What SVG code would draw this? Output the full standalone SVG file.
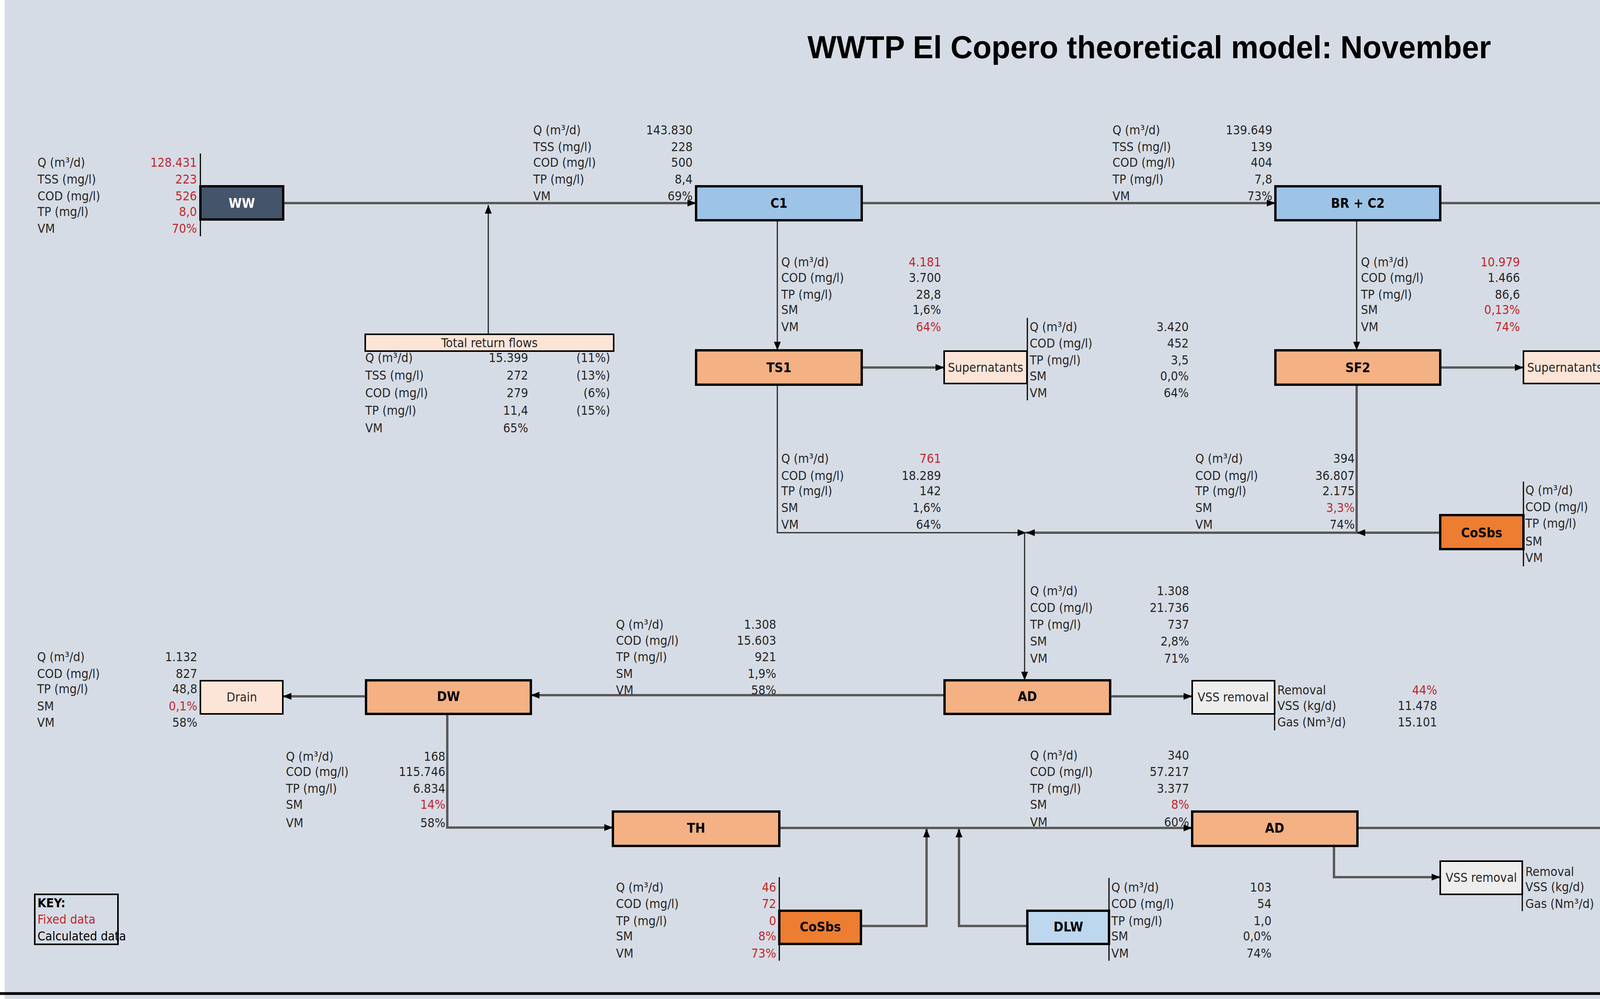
<svg xmlns="http://www.w3.org/2000/svg" width="5884" height="2558" viewBox="0 0 5884 2558">
<style>
text{font-family:"Liberation Sans Narrow","DejaVu Sans Condensed","Liberation Sans",sans-serif;font-size:32px;fill:#262626;dominant-baseline:central}
.v{text-anchor:end}
.r{fill:#c0272d}
.n{text-anchor:middle;font-weight:bold;font-size:34px;fill:#000}
.w{fill:#fff}
.t{text-anchor:middle;font-size:32px}
.box{stroke:#000;stroke-width:6}
.sep{stroke:#000;stroke-width:3}
.m{fill:none;stroke:#595959;stroke-width:6}
.f{fill:none;stroke:#262626;stroke-width:3}
</style>
<defs>
<marker id="a" viewBox="0 0 10 10" refX="9" refY="5" markerWidth="5" markerHeight="5" orient="auto" markerUnits="userSpaceOnUse" style="overflow:visible"><path d="M0,0L10,5L0,10z" fill="#000" transform="scale(2.2) translate(-5.5,-2.7)"/></marker>
<marker id="b" viewBox="0 0 10 10" refX="10" refY="5" markerWidth="22" markerHeight="22" orient="auto" markerUnits="userSpaceOnUse"><path d="M0,1L10,5L0,9z" fill="#000"/></marker>
</defs>
<rect width="5884" height="2558" fill="#d6dce5"/>
<rect width="12" height="2558" fill="#fff"/>
<line x1="0" y1="2544" x2="5884" y2="2544" stroke="#000" stroke-width="7"/>
<text x="2942" y="120" text-anchor="middle" style="font-family:'Liberation Sans',sans-serif;font-weight:bold;font-size:82px;fill:#000" textLength="1750" lengthAdjust="spacingAndGlyphs">WWTP El Copero theoretical model: November</text>

<g id="connectors">
<path class="m" d="M725,520H1782" marker-end="url(#b)"/>
<path class="f" d="M1250,856V525" marker-end="url(#b)"/>
<path class="m" d="M2206,520H3265" marker-end="url(#b)"/>
<path class="m" d="M3687,520H5169" marker-end="url(#b)"/>
<path class="f" d="M1990,564V897" marker-end="url(#b)"/>
<path class="f" d="M3473,564V897" marker-end="url(#b)"/>
<path class="m" d="M2206,941H2417" marker-end="url(#b)"/>
<path class="m" d="M3687,941H3900" marker-end="url(#b)"/>
<path class="f" d="M1990,985V1364H2627" marker-end="url(#b)"/>
<path class="m" d="M3473,985V1364H2627" marker-end="url(#b)"/>
<path class="m" d="M3687,1364H3473" marker-end="url(#b)"/>
<path class="f" d="M2623,1364V1742" marker-end="url(#b)"/>
<path class="m" d="M2842,1783H3052" marker-end="url(#b)"/>
<path class="m" d="M2418,1780H1359" marker-end="url(#b)"/>
<path class="m" d="M937,1783H724" marker-end="url(#b)"/>
<path class="m" d="M1145,1828V2119H1569" marker-end="url(#b)"/>
<path class="m" d="M1995,2120H3052" marker-end="url(#b)"/>
<path class="m" d="M2204,2371H2372V2122" marker-end="url(#b)"/>
<path class="m" d="M2630,2371H2455V2122" marker-end="url(#b)"/>
<path class="m" d="M3415,2166V2246H3687" marker-end="url(#b)"/>
<path class="m" d="M3475,2120H4533" marker-end="url(#b)"/>
<path class="m" d="M4743,2078V1825H4957" marker-end="url(#b)"/>
<path class="m" d="M4959,2120H5169" marker-end="url(#b)"/>
</g>

<g id="WW"><rect class="box" x="513" y="477" width="212" height="85" fill="#44546a"/><text class="n w" x="619" y="520">WW</text></g>
<g id="C1"><rect class="box" x="1782" y="477" width="424" height="87" fill="#9dc3e6"/><text class="n" x="1994" y="520">C1</text></g>
<g id="BRC2"><rect class="box" x="3265" y="477" width="422" height="87" fill="#9dc3e6"/><text class="n" x="3476" y="520">BR + C2</text></g>
<g id="TW"><rect class="box" x="5169" y="477" width="212" height="84" fill="#5b9bd5"/><text class="n w" x="5275" y="520">TW</text></g>
<g id="TS1"><rect class="box" x="1782" y="897" width="424" height="88" fill="#f4b183"/><text class="n" x="1994" y="941">TS1</text></g>
<g id="Sup1"><rect class="box" x="2417" y="899" width="212" height="83" fill="#fce4d6" style="stroke-width:4"/><text class="t" x="2523" y="941">Supernatants</text></g>
<g id="SF2"><rect class="box" x="3265" y="897" width="422" height="88" fill="#f4b183"/><text class="n" x="3476" y="941">SF2</text></g>
<g id="Sup2"><rect class="box" x="3900" y="899" width="212" height="83" fill="#fce4d6" style="stroke-width:4"/><text class="t" x="4006" y="941">Supernatants</text></g>
<g id="CoSbs1"><rect class="box" x="3687" y="1319" width="213" height="87" fill="#ed7d31"/><text class="n" x="3793" y="1364">CoSbs</text></g>
<g id="AD1"><rect class="box" x="2418" y="1742" width="424" height="86" fill="#f4b183"/><text class="n" x="2630" y="1783">AD</text></g>
<g id="VSS1"><rect class="box" x="3052" y="1743" width="211" height="85" fill="#ededed" style="stroke-width:4"/><text class="t" x="3157" y="1785">VSS removal</text></g>
<g id="DW1"><rect class="box" x="937" y="1742" width="422" height="86" fill="#f4b183"/><text class="n" x="1148" y="1783">DW</text></g>
<g id="Drain1"><rect class="box" x="513" y="1743" width="211" height="85" fill="#fce4d6" style="stroke-width:4"/><text class="t" x="619" y="1785">Drain</text></g>
<g id="TH"><rect class="box" x="1569" y="2078" width="426" height="88" fill="#f4b183"/><text class="n" x="1782" y="2120">TH</text></g>
<g id="AD2"><rect class="box" x="3052" y="2078" width="423" height="88" fill="#f4b183"/><text class="n" x="3263" y="2120">AD</text></g>
<g id="VSS2"><rect class="box" x="3687" y="2205" width="210" height="85" fill="#ededed" style="stroke-width:4"/><text class="t" x="3792" y="2247">VSS removal</text></g>
<g id="DW2"><rect class="box" x="4533" y="2078" width="426" height="90" fill="#f4b183"/><text class="n" x="4746" y="2120">DW</text></g>
<g id="Drain2"><rect class="box" x="4957" y="1785" width="212" height="85" fill="#fce4d6" style="stroke-width:4"/><text class="t" x="5063" y="1827">Drain</text></g>
<g id="DM"><rect class="box" x="5169" y="2078" width="211" height="88" fill="#843c0c"/><text class="n w" x="5275" y="2122">DM</text></g>
<g id="CoSbs2"><rect class="box" x="1995" y="2332" width="209" height="85" fill="#ed7d31"/><text class="n" x="2100" y="2373">CoSbs</text></g>
<g id="DLW"><rect class="box" x="2630" y="2332" width="209" height="85" fill="#bdd7ee"/><text class="n" x="2735" y="2373">DLW</text></g>
<g id="TRF"><rect class="box" x="935" y="856" width="636" height="43" fill="#fce4d6" style="stroke-width:4"/><text class="t" x="1253" y="878">Total return flows</text></g>
<g id="KEY"><rect x="89" y="2290" width="213" height="128" fill="none" stroke="#000" stroke-width="4"/>
<text x="96" y="2312" style="font-weight:bold;fill:#000">KEY:</text><text class="r" x="96" y="2354">Fixed data</text><text x="96" y="2397" style="fill:#000">Calculated data</text></g>

<g id="tables">
<line class="sep" x1="513" y1="393" x2="513" y2="605"/>
<line class="sep" x1="5382" y1="393" x2="5382" y2="604"/>
<line class="sep" x1="2630" y1="814" x2="2630" y2="1025"/>
<line class="sep" x1="4112" y1="814" x2="4112" y2="1025"/>
<line class="sep" x1="3900" y1="1233" x2="3900" y2="1450"/>
<line class="sep" x1="3263" y1="1743" x2="3263" y2="1870"/>
<line class="sep" x1="3897" y1="2205" x2="3897" y2="2333"/>
<line class="sep" x1="2839" y1="2248" x2="2839" y2="2460"/>
<line class="sep" x1="1995" y1="2246" x2="1995" y2="2460"/>
<line class="sep" x1="5169" y1="1701" x2="5169" y2="1912"/>
<line class="sep" x1="5382" y1="1995" x2="5382" y2="2209"/>

<text x="96" y="416">Q (m³/d)</text><text x="96" y="459">TSS (mg/l)</text><text x="96" y="502">COD (mg/l)</text><text x="96" y="542">TP (mg/l)</text><text x="96" y="585">VM</text>
<text class="v r" x="504" y="416">128.431</text><text class="v r" x="504" y="459">223</text><text class="v r" x="504" y="502">526</text><text class="v r" x="504" y="542">8,0</text><text class="v r" x="504" y="585">70%</text>

<text x="1365" y="333">Q (m³/d)</text><text x="1365" y="376">TSS (mg/l)</text><text x="1365" y="416">COD (mg/l)</text><text x="1365" y="459">TP (mg/l)</text><text x="1365" y="502">VM</text>
<text class="v" x="1773" y="333">143.830</text><text class="v" x="1773" y="376">228</text><text class="v" x="1773" y="416">500</text><text class="v" x="1773" y="459">8,4</text><text class="v" x="1773" y="502">69%</text>

<text x="2848" y="333">Q (m³/d)</text><text x="2848" y="376">TSS (mg/l)</text><text x="2848" y="416">COD (mg/l)</text><text x="2848" y="459">TP (mg/l)</text><text x="2848" y="502">VM</text>
<text class="v" x="3257" y="333">139.649</text><text class="v" x="3257" y="376">139</text><text class="v" x="3257" y="416">404</text><text class="v" x="3257" y="459">7,8</text><text class="v" x="3257" y="502">73%</text>

<text x="5388" y="416">Q (m³/d)</text><text x="5388" y="458">TSS (mg/l)</text><text x="5388" y="501">COD (mg/l)</text><text x="5388" y="542">TP (mg/l)</text><text x="5388" y="584">VM</text>
<text class="v" x="5758" y="416">#¡VALOR!</text><text class="v" x="5758" y="458">#¡VALOR!</text><text class="v" x="5758" y="501">#¡VALOR!</text><text class="v" x="5758" y="542">#¡VALOR!</text><text class="v" x="5758" y="584">#¡VALOR!</text>

<text x="2000" y="671">Q (m³/d)</text><text x="2000" y="711">COD (mg/l)</text><text x="2000" y="754">TP (mg/l)</text><text x="2000" y="793">SM</text><text x="2000" y="837">VM</text>
<text class="v r" x="2409" y="671">4.181</text><text class="v" x="2409" y="711">3.700</text><text class="v" x="2409" y="754">28,8</text><text class="v" x="2409" y="793">1,6%</text><text class="v r" x="2409" y="837">64%</text>

<text x="3484" y="671">Q (m³/d)</text><text x="3484" y="711">COD (mg/l)</text><text x="3484" y="754">TP (mg/l)</text><text x="3484" y="793">SM</text><text x="3484" y="837">VM</text>
<text class="v r" x="3891" y="671">10.979</text><text class="v" x="3891" y="711">1.466</text><text class="v" x="3891" y="754">86,6</text><text class="v r" x="3891" y="793">0,13%</text><text class="v r" x="3891" y="837">74%</text>

<text x="2636" y="837">Q (m³/d)</text><text x="2636" y="879">COD (mg/l)</text><text x="2636" y="922">TP (mg/l)</text><text x="2636" y="963">SM</text><text x="2636" y="1006">VM</text>
<text class="v" x="3043" y="837">3.420</text><text class="v" x="3043" y="879">452</text><text class="v" x="3043" y="922">3,5</text><text class="v" x="3043" y="963">0,0%</text><text class="v" x="3043" y="1006">64%</text>

<text x="4118" y="837">Q (m³/d)</text><text x="4118" y="879">COD (mg/l)</text><text x="4118" y="922">TP (mg/l)</text><text x="4118" y="963">SM</text><text x="4118" y="1006">VM</text>
<text class="v" x="4525" y="837">10.586</text><text class="v" x="4525" y="879">152</text><text class="v" x="4525" y="922">9,0</text><text class="v" x="4525" y="963">0,0%</text><text class="v" x="4525" y="1006">74%</text>

<text x="2000" y="1174">Q (m³/d)</text><text x="2000" y="1218">COD (mg/l)</text><text x="2000" y="1257">TP (mg/l)</text><text x="2000" y="1300">SM</text><text x="2000" y="1343">VM</text>
<text class="v r" x="2409" y="1174">761</text><text class="v" x="2409" y="1218">18.289</text><text class="v" x="2409" y="1257">142</text><text class="v" x="2409" y="1300">1,6%</text><text class="v" x="2409" y="1343">64%</text>

<text x="3060" y="1174">Q (m³/d)</text><text x="3060" y="1218">COD (mg/l)</text><text x="3060" y="1257">TP (mg/l)</text><text x="3060" y="1300">SM</text><text x="3060" y="1343">VM</text>
<text class="v" x="3468" y="1174">394</text><text class="v" x="3468" y="1218">36.807</text><text class="v" x="3468" y="1257">2.175</text><text class="v r" x="3468" y="1300">3,3%</text><text class="v" x="3468" y="1343">74%</text>

<text x="3905" y="1255">Q (m³/d)</text><text x="3905" y="1298">COD (mg/l)</text><text x="3905" y="1340">TP (mg/l)</text><text x="3905" y="1386">SM</text><text x="3905" y="1428">VM</text>
<text class="v r" x="4315" y="1255">153</text><text class="v r" x="4315" y="1298">121</text><text class="v r" x="4315" y="1340">0</text><text class="v r" x="4315" y="1386">7%</text><text class="v r" x="4315" y="1428">76%</text>

<text x="2637" y="1513">Q (m³/d)</text><text x="2637" y="1556">COD (mg/l)</text><text x="2637" y="1599">TP (mg/l)</text><text x="2637" y="1642">SM</text><text x="2637" y="1686">VM</text>
<text class="v" x="3044" y="1513">1.308</text><text class="v" x="3044" y="1556">21.736</text><text class="v" x="3044" y="1599">737</text><text class="v" x="3044" y="1642">2,8%</text><text class="v" x="3044" y="1686">71%</text>

<text x="3270" y="1767">Removal</text><text x="3270" y="1807">VSS (kg/d)</text><text x="3270" y="1849">Gas (Nm³/d)</text>
<text class="v r" x="3679" y="1767">44%</text><text class="v" x="3679" y="1807">11.478</text><text class="v" x="3679" y="1849">15.101</text>

<text x="1577" y="1599">Q (m³/d)</text><text x="1577" y="1640">COD (mg/l)</text><text x="1577" y="1682">TP (mg/l)</text><text x="1577" y="1725">SM</text><text x="1577" y="1767">VM</text>
<text class="v" x="1987" y="1599">1.308</text><text class="v" x="1987" y="1640">15.603</text><text class="v" x="1987" y="1682">921</text><text class="v" x="1987" y="1725">1,9%</text><text class="v" x="1987" y="1767">58%</text>

<text x="95" y="1682">Q (m³/d)</text><text x="95" y="1725">COD (mg/l)</text><text x="95" y="1764">TP (mg/l)</text><text x="95" y="1808">SM</text><text x="95" y="1850">VM</text>
<text class="v" x="505" y="1682">1.132</text><text class="v" x="505" y="1725">827</text><text class="v" x="505" y="1764">48,8</text><text class="v r" x="505" y="1808">0,1%</text><text class="v" x="505" y="1850">58%</text>

<text x="732" y="1937">Q (m³/d)</text><text x="732" y="1976">COD (mg/l)</text><text x="732" y="2019">TP (mg/l)</text><text x="732" y="2060">SM</text><text x="732" y="2107">VM</text>
<text class="v" x="1140" y="1937">168</text><text class="v" x="1140" y="1976">115.746</text><text class="v" x="1140" y="2019">6.834</text><text class="v r" x="1140" y="2060">14%</text><text class="v" x="1140" y="2107">58%</text>

<text x="2637" y="1934">Q (m³/d)</text><text x="2637" y="1976">COD (mg/l)</text><text x="2637" y="2019">TP (mg/l)</text><text x="2637" y="2060">SM</text><text x="2637" y="2105">VM</text>
<text class="v" x="3044" y="1934">340</text><text class="v" x="3044" y="1976">57.217</text><text class="v" x="3044" y="2019">3.377</text><text class="v r" x="3044" y="2060">8%</text><text class="v" x="3044" y="2105">60%</text>

<text x="4117" y="1934">Q (m³/d)</text><text x="4117" y="1976">COD (mg/l)</text><text x="4117" y="2019">TP (mg/l)</text><text x="4117" y="2060">SM</text><text x="4117" y="2105">VM</text>
<text class="v" x="4527" y="1934">340</text><text class="v" x="4527" y="1976">53.414</text><text class="v" x="4527" y="2019">3.491</text><text class="v" x="4527" y="2060">6,9%</text><text class="v" x="4527" y="2105">54%</text>

<text x="3905" y="2232">Removal</text><text x="3905" y="2271">VSS (kg/d)</text><text x="3905" y="2314">Gas (Nm³/d)</text>
<text class="v" x="4314" y="2232">21%</text><text class="v" x="4314" y="2271">3.583</text><text class="v" x="4314" y="2314">4.714</text>

<text x="5176" y="1725">Q (m³/d)</text><text x="5176" y="1767">COD (mg/l)</text><text x="5176" y="1808">TP (mg/l)</text><text x="5176" y="1850">SM</text><text x="5176" y="1893">VM</text>
<text class="v" x="5585" y="1725">262</text><text class="v" x="5585" y="1767">769</text><text class="v" x="5585" y="1808">50,3</text><text class="v r" x="5585" y="1850">0,1%</text><text class="v" x="5585" y="1893">54,1%</text>

<text x="5388" y="2019">Q  (m³/d)</text><text x="5388" y="2060">COD (mg/l)</text><text x="5388" y="2105">TP (mg/l)</text><text x="5388" y="2146">SM</text><text x="5388" y="2189">VM</text>
<text class="v" x="5795" y="2019">78</text><text class="v" x="5795" y="2060">230.643</text><text class="v" x="5795" y="2105">15.076</text><text class="v r" x="5795" y="2146">30%</text><text class="v" x="5795" y="2189">54%</text>

<text x="1577" y="2272">Q (m³/d)</text><text x="1577" y="2314">COD (mg/l)</text><text x="1577" y="2358">TP (mg/l)</text><text x="1577" y="2397">SM</text><text x="1577" y="2441">VM</text>
<text class="v r" x="1987" y="2272">46</text><text class="v r" x="1987" y="2314">72</text><text class="v r" x="1987" y="2358">0</text><text class="v r" x="1987" y="2397">8%</text><text class="v r" x="1987" y="2441">73%</text>

<text x="2845" y="2272">Q (m³/d)</text><text x="2845" y="2314">COD (mg/l)</text><text x="2845" y="2358">TP (mg/l)</text><text x="2845" y="2397">SM</text><text x="2845" y="2441">VM</text>
<text class="v" x="3255" y="2272">103</text><text class="v" x="3255" y="2314">54</text><text class="v" x="3255" y="2358">1,0</text><text class="v" x="3255" y="2397">0,0%</text><text class="v" x="3255" y="2441">74%</text>

<text x="935" y="916">Q (m³/d)</text><text x="935" y="961">TSS (mg/l)</text><text x="935" y="1006">COD (mg/l)</text><text x="935" y="1051">TP (mg/l)</text><text x="935" y="1096">VM</text>
<text class="v" x="1352" y="916">15.399</text><text class="v" x="1352" y="961">272</text><text class="v" x="1352" y="1006">279</text><text class="v" x="1352" y="1051">11,4</text><text class="v" x="1352" y="1096">65%</text>
<text class="v" x="1562" y="916">(11%)</text><text class="v" x="1562" y="961">(13%)</text><text class="v" x="1562" y="1006">(6%)</text><text class="v" x="1562" y="1051">(15%)</text>
</g>
</svg>
